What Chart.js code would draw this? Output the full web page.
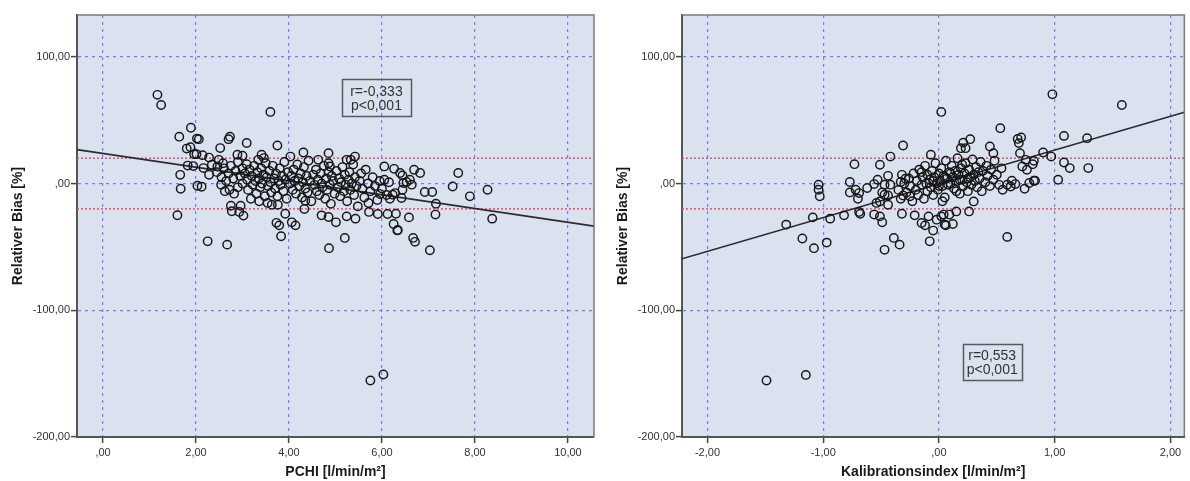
<!DOCTYPE html>
<html>
<head>
<meta charset="utf-8">
<script src="https://cdn.jsdelivr.net/npm/chart.js@4.4.1/dist/chart.umd.min.js"></script>
<style>
  html, body { margin: 0; padding: 0; background: #ffffff; }
  #wrap { position: relative; width: 1190px; height: 481px; overflow: hidden; }
  canvas { position: absolute; top: 0; }
  #pchiChart { left: 0; }
  #kalChart { left: 600px; }
</style>
</head>
<body>
<div id="wrap">
  <canvas id="pchiChart" width="600" height="481"></canvas>
  <canvas id="kalChart" width="590" height="481"></canvas>
</div>
<script>
// ---- axis ranges and tick values ----
const biasTicks = [-200, -100, 0, 100];
const biasRange = [-200, 133];
const pchiTicks = [0, 2, 4, 6, 8, 10];
const pchiRange = [-0.56, 10.56];
const kalTicks = [-2, -1, 0, 1, 2];
const kalRange = [-2.22, 2.12];

// ---- limits of agreement (+/- 20 %) ----
const agreementLimits = [20, -20];

// ---- regression lines (end points across each plot) ----
const pchiFit = [[-0.56, 26.8], [10.56, -33.6]];
const kalFit = [[-2.22, -59.4], [2.12, 56.3]];

// ---- correlation labels ----
const pchiStats = ['r=-0,333', 'p<0,001'];
const kalStats = ['r=0,553', 'p<0,001'];
const pchiStatsAt = [5.88, 67.9];
const kalStatsAt = [0.46, -140.9];

// ---- relative bias vs. PCHI [x, bias %] ----
const pchiPoints = [
  [1.17,70],[1.25,62],[1.89,44],[1.64,37],[2.06,35],[2.02,35.5],[2.73,37],[2.70,35],[2.52,28],[3.09,32],
  [3.75,30],[3.60,56.5],[1.80,27.6],[1.88,28.7],[1.96,23.2],[2.01,23.2],[2.14,22.4],[2.28,20.5],[1.82,14.2],[1.94,13.8],
  [1.66,6.9],[1.67,-4.1],[2.03,-1.7],[2.12,-2.5],[1.60,-25],[2.25,-45.6],[2.67,-48.2],[2.16,12.2],[2.28,6.9],[2.34,14.8],
  [2.49,18.7],[2.46,13.5],[2.54,-0.9],[2.72,-4.9],[2.75,-17.5],[2.96,-17.5],[2.77,-21.9],[2.93,-22.4],[3.02,-25.3],[2.89,22.7],
  [3.00,21.9],[3.09,15.3],[3.34,18.7],[3.41,22.7],[3.46,20.1],[3.54,-15.3],[3.63,-16.7],[3.76,-16.7],[3.73,-31],[3.79,-33],
  [3.83,-41.6],[3.92,-23.8],[4.06,-30.6],[4.14,-33],[4.03,21.3],[4.31,24.5],[4.35,-13.5],[4.33,-20.1],[4.85,24],[4.63,18.7],
  [4.85,16.1],[4.88,13.5],[5.24,18.7],[5.42,21.3],[5.33,18.7],[6.05,13.5],[6.26,11.6],[6.39,8.3],[6.44,6.4],[6.69,10.9],
  [6.82,8.3],[6.60,3],[6.64,-0.9],[6.46,0.4],[6.53,1.2],[6.92,-6.7],[7.08,-6.7],[7.16,-15.9],[7.15,-24.5],[7.52,-2.3],
  [7.64,8.3],[7.89,-10.1],[8.27,-4.9],[8.37,-27.7],[4.70,-25.1],[4.85,-26.4],[5.01,-30.6],[5.24,-25.9],[5.43,-27.7],[5.20,-42.9],
  [4.86,-51],[5.72,-22.4],[5.91,-24],[6.12,-24],[6.30,-23.8],[6.25,-31.9],[6.34,-36.6],[6.58,-26.7],[6.67,-42.9],[6.71,-46],
  [7.03,-52.6],[5.71,-15.3],[5.96,-8.3],[6.23,-8.8],[6.28,-7.5],[6.42,-11.4],[6.44,-4.9],[6.17,-12],[5.75,-155.4],[6.03,-150.7],
  [6.33,-37],
  [2.45,9],[2.55,5],[2.60,12],[2.65,2],[2.70,8],[2.75,14],[2.80,4],[2.85,10],[2.90,-3],[2.95,6],
  [3.00,12],[3.00,0],[2.58,16],[2.82,-8],[2.90,17],[2.62,-6],
  [3.05,8],[3.10,3],[3.12,-5],[3.15,11],[3.20,6],[3.22,-1],[3.25,14],[3.28,2],[3.30,-8],[3.32,9],
  [3.35,4],[3.38,-3],[3.40,12],[3.42,0],[3.45,7],[3.48,-10],[3.50,16],[3.18,-12],[3.36,-14],
  [3.52,5],[3.55,-2],[3.58,10],[3.60,1],[3.62,-7],[3.65,14],[3.68,4],[3.70,-4],[3.72,8],[3.75,-10],
  [3.78,2],[3.80,12],[3.82,-1],[3.85,6],[3.88,-6],[3.90,17],[3.92,3],[3.95,-12],[3.98,9],
  [4.02,0],[4.05,6],[4.08,-5],[4.10,11],[4.12,2],[4.15,-8],[4.18,15],[4.20,4],[4.22,-2],[4.25,8],
  [4.28,-11],[4.30,1],[4.32,13],[4.35,-4],[4.38,6],[4.40,-7],[4.42,18],[4.45,2],[4.48,-14],
  [4.52,7],[4.55,-1],[4.58,11],[4.60,-6],[4.62,3],[4.65,-9],[4.68,8],[4.70,0],[4.72,-3],[4.75,14],
  [4.78,-12],[4.80,4],[4.82,-5],[4.85,9],[4.88,-1],[4.90,-16],[4.92,6],[4.95,2],[4.98,-8],
  [5.02,10],[5.05,-3],[5.08,4],[5.10,-10],[5.12,1],[5.15,13],[5.18,-6],[5.20,7],[5.22,-1],[5.25,-14],
  [5.28,3],[5.30,9],[5.32,-5],[5.35,0],[5.38,15],[5.40,-9],[5.42,5],[5.45,-2],[5.48,-18],
  [5.52,2],[5.55,8],[5.58,-4],[5.62,-11],[5.65,11],[5.70,0],[5.75,-6],[5.80,5],[5.85,-2],[5.90,-13],
  [5.95,2],[6.00,-4],[6.05,3],[6.10,-9],[6.15,1]
];

// ---- relative bias vs. calibration index [x, bias %] ----
const kalPoints = [
  [-1.32,-32.4],[-1.18,-43.4],[-1.08,-51],[-0.97,-46.6],[-1.09,-26.7],[-0.94,-27.7],[-1.04,-0.9],[-1.04,-4.9],[-1.03,-10.1],[-0.82,-25.1],
  [-0.73,15.3],[-0.77,1.2],[-0.77,-7],[-0.72,-4.9],[-0.69,-7.5],[-0.70,-12],[-0.69,-22.4],[-0.68,-23.8],[-0.62,-3.5],[-0.56,-24.5],
  [-0.51,-25.9],[-0.49,-30.6],[-0.51,14.8],[-0.56,-0.4],[-0.53,3],[-0.47,-0.9],[-0.44,6.1],[-0.42,-0.9],[-0.44,-9.4],[-0.49,-7],
  [-0.47,-8.8],[-0.54,-15.3],[-0.51,-14.1],[-0.44,-16.7],[-0.39,-42.9],[-0.34,-48.2],[-0.47,-52.3],[-0.42,21.3],[-0.31,30],[-0.32,6.9],
  [-0.33,1.2],[-0.29,3.8],[-0.31,-9.4],[-0.32,-23.8],[-0.25,-10.1],[-0.21,-25.1],[-0.15,-31.1],[-0.12,-33],[-0.09,-25.9],[-0.08,-45.6],
  [-0.05,-37.1],[-0.02,-28.5],[0.02,-25.9],[0.05,-32.4],[0.02,56.5],[-0.07,22.7],[0.53,43.7],[0.68,35.2],[0.71,36.3],[0.69,31.9],
  [0.27,35],[0.21,32.3],[0.23,27.9],[0.19,27.9],[0.44,29.2],[0.47,24],[1.08,37.6],[1.28,35.8],[0.90,24.5],[0.97,21.3],
  [1.08,16.6],[1.13,12.2],[1.29,12.2],[1.03,3],[0.82,17.9],[0.81,15.3],[0.76,10.9],[0.72,13.5],[0.70,24],[0.75,18.7],
  [0.82,2.2],[0.83,2.2],[0.78,0.4],[0.74,-4.1],[0.66,-0.4],[0.62,-2.3],[0.63,2.2],[0.55,-4.9],[0.59,-0.9],[0.30,-14.1],
  [0.26,-22],[0.15,-22],[0.09,-24.5],[0.04,-24.5],[0.12,-31.9],[0.06,-33],[0.59,-42.1],[0.98,70.4],[1.58,62],[-1.49,-155.4],
  [-1.15,-151],
  [-0.35,-5],[-0.33,-12],[-0.30,0],[-0.28,-7],[-0.26,4],[-0.25,-2],[-0.23,-14],[-0.22,8],[-0.20,-5],[-0.19,2],
  [-0.18,-9],[-0.17,11],[-0.15,-1],[-0.14,5],[-0.13,-12],[-0.12,14],[-0.11,0],[-0.10,-6],[-0.10,7],
  [-0.08,3],[-0.07,-3],[-0.06,10],[-0.05,-9],[-0.04,5],[-0.03,16],[-0.02,0],[-0.01,-5],[0.00,8],[0.01,2],
  [0.02,12],[0.03,-2],[0.04,6],[0.05,-11],[0.06,18],[0.07,4],[0.08,-1],[0.09,9],[0.10,0],
  [0.11,14],[0.12,5],[0.13,-4],[0.14,10],[0.15,2],[0.16,20],[0.17,7],[0.18,-8],[0.19,12],[0.20,3],
  [0.21,-2],[0.22,8],[0.23,16],[0.24,1],[0.25,-6],[0.26,11],[0.27,5],[0.28,-1],[0.29,19],
  [0.30,7],[0.31,2],[0.32,13],[0.33,-3],[0.34,9],[0.35,4],[0.36,17],[0.37,-6],[0.38,10],[0.40,1],
  [0.41,14],[0.42,6],[0.44,-2],[0.45,11],[0.47,3],[0.48,18],[0.50,7],[0.52,-1],[0.54,12],
  [-0.05,2],[0.00,-2],[0.05,5],[0.10,8],[0.15,-6],[0.20,15],[0.25,4],[0.03,-14],[0.18,3],[-0.15,9]
];

// ---- shared styling ----
const FONT = '"Liberation Sans", Arial, Helvetica, sans-serif';
const PLOT_BG = '#dae2f0';
const GRID_BLUE = '#7b7bec';
const LIMIT_RED = '#e2506c';

function commaFormat(v) {
  let s = Math.abs(v).toFixed(2).replace('.', ',');
  if (s.startsWith('0,')) s = s.slice(1);
  return (v < 0 ? '-' : '') + s;
}

const plotFrame = {
  id: 'plotFrame',
  beforeDraw(chart) {
    const { ctx, chartArea: a } = chart;
    ctx.save();
    ctx.fillStyle = PLOT_BG;
    ctx.fillRect(a.left, a.top, a.right - a.left, a.bottom - a.top);
    ctx.restore();
  },
  afterDatasetsDraw(chart, args, opts) {
    const { ctx, chartArea: a, scales } = chart;
    ctx.save();
    // top and right edges of the plot frame
    ctx.strokeStyle = '#7a7a7a';
    ctx.lineWidth = 1.5;
    ctx.beginPath();
    ctx.moveTo(a.left, a.top);
    ctx.lineTo(a.right, a.top);
    ctx.lineTo(a.right, a.bottom);
    ctx.stroke();
    // correlation box
    const cx = scales.x.getPixelForValue(opts.at[0]);
    const cy = scales.y.getPixelForValue(opts.at[1]);
    const w = opts.size[0], h = opts.size[1];
    ctx.strokeStyle = '#5a5a5a';
    ctx.lineWidth = 1.5;
    ctx.strokeRect(Math.round(cx - w / 2) + 0.5, Math.round(cy - h / 2) + 0.5, w, h);
    ctx.fillStyle = '#333333';
    ctx.font = '14px ' + FONT;
    ctx.textAlign = 'center';
    ctx.textBaseline = 'middle';
    ctx.fillText(opts.lines[0], cx, cy - 5.5);
    ctx.fillText(opts.lines[1], cx, cy + 8.5);
    ctx.restore();
  }
};

function buildChart(canvasId, cfg) {
  const toXY = p => ({ x: p[0], y: p[1] });
  const xMin = cfg.xRange[0], xMax = cfg.xRange[1];
  const axisBorder = { display: true, color: '#555', width: 2, dash: [3, 4] };
  return new Chart(document.getElementById(canvasId), {
    type: 'scatter',
    data: {
      datasets: [
        {
          type: 'line',
          data: [{ x: xMin, y: agreementLimits[0] }, { x: xMax, y: agreementLimits[0] }],
          borderColor: LIMIT_RED, borderWidth: 1.5, borderDash: [2, 2],
          pointRadius: 0, fill: false, order: 3
        },
        {
          type: 'line',
          data: [{ x: xMin, y: agreementLimits[1] }, { x: xMax, y: agreementLimits[1] }],
          borderColor: LIMIT_RED, borderWidth: 1.5, borderDash: [2, 2],
          pointRadius: 0, fill: false, order: 3
        },
        {
          type: 'line',
          data: cfg.fit.map(toXY),
          borderColor: '#2b2b2b', borderWidth: 1.6,
          pointRadius: 0, fill: false, order: 2
        },
        {
          data: cfg.points.map(toXY),
          pointStyle: 'circle', pointRadius: 4.2, pointHoverRadius: 4.2,
          pointBorderWidth: 1.45, borderColor: '#161616', backgroundColor: 'rgba(0,0,0,0)',
          order: 1
        }
      ]
    },
    options: {
      responsive: false,
      animation: false,
      devicePixelRatio: 1,
      events: [],
      layout: { padding: { top: 15, right: cfg.padRight, left: 0, bottom: 0 } },
      plugins: {
        legend: { display: false },
        tooltip: { enabled: false },
        plotFrame: { at: cfg.statsAt, size: cfg.statsSize, lines: cfg.stats }
      },
      scales: {
        x: {
          type: 'linear', min: xMin, max: xMax,
          afterBuildTicks: s => { s.ticks = cfg.xTicks.map(v => ({ value: v })); },
          afterFit: s => { s.height = 44; },
          grid: {
            color: GRID_BLUE, lineWidth: 1.2,
            tickColor: '#444', tickLength: 6, tickBorderDash: [], tickWidth: 1.5,
            drawOnChartArea: true, drawTicks: true
          },
          border: axisBorder,
          ticks: {
            padding: 3, color: '#333', font: { family: FONT, size: 11 },
            callback: v => commaFormat(v), maxRotation: 0, autoSkip: false
          },
          title: {
            display: true, text: cfg.xTitle, color: '#1a1a1a',
            font: { family: FONT, size: 14, weight: 'bold' }, padding: { top: 0, bottom: 0 }
          }
        },
        y: {
          type: 'linear', min: biasRange[0], max: biasRange[1],
          afterBuildTicks: s => { s.ticks = biasTicks.map(v => ({ value: v })); },
          afterFit: s => { s.width = cfg.yWidth; },
          grid: {
            color: GRID_BLUE, lineWidth: 1.2,
            tickColor: '#444', tickLength: 6, tickBorderDash: [], tickWidth: 1.5
          },
          border: axisBorder,
          ticks: {
            padding: 1, color: '#333', font: { family: FONT, size: 11 },
            callback: v => commaFormat(v), autoSkip: false
          },
          title: {
            display: true, text: 'Relativer Bias [%]', color: '#1a1a1a',
            font: { family: FONT, size: 14, weight: 'bold' }, padding: { top: cfg.yTitlePad, bottom: 0 }
          }
        }
      }
    },
    plugins: [plotFrame]
  });
}

buildChart('pchiChart', {
  xRange: pchiRange, xTicks: pchiTicks, points: pchiPoints, fit: pchiFit,
  xTitle: 'PCHI [l/min/m²]', yWidth: 77, padRight: 6, yTitlePad: 10,
  stats: pchiStats, statsAt: pchiStatsAt, statsSize: [69, 37]
});

buildChart('kalChart', {
  xRange: kalRange, xTicks: kalTicks, points: kalPoints, fit: kalFit,
  xTitle: 'Kalibrationsindex [l/min/m²]', yWidth: 82, padRight: 2, yTitlePad: 15,
  stats: kalStats, statsAt: kalStatsAt, statsSize: [59, 36]
});
</script>
</body>
</html>
